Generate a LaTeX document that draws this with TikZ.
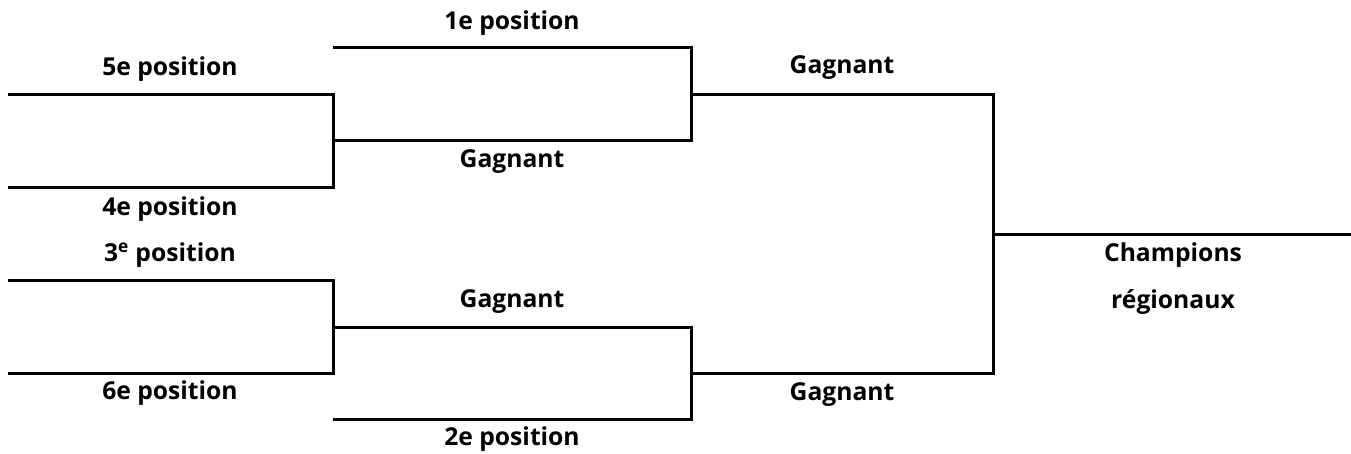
\documentclass[tikz,border=0pt]{standalone}
\usepackage{fontspec}
\setmainfont{Open Sans}
\usepackage{tikz}

\tikzset{
  bracket/.style={line width=2.25pt, line join=miter},
  lbl/.style={anchor=base, inner sep=0.75pt, font=\bfseries\fontsize{18.5}{22}\selectfont}
}

\begin{document}
\begin{tikzpicture}[x=0.75pt,y=0.75pt,yscale=-1,xscale=1]
%set diagram left start at 0, and has height of 453
\useasboundingbox (0,0) rectangle (1351,453);

%Coordinates of the brackets
\coordinate (a1) at (8,94);
\coordinate (a2) at (333,94);
\coordinate (a3) at (333,187);
\coordinate (a4) at (8,187);
\coordinate (m1) at (333,140);
\coordinate (m2) at (691,140);
\coordinate (t2) at (691,48);
\coordinate (t1) at (333,48);
\coordinate (r1) at (691,94);
\coordinate (r2) at (993,94);
\coordinate (b1) at (8,280);
\coordinate (b2) at (333,280);
\coordinate (b3) at (333,373);
\coordinate (b4) at (8,373);
\coordinate (n1) at (333,327);
\coordinate (n2) at (691,327);
\coordinate (n3) at (691,419);
\coordinate (n4) at (333,419);
\coordinate (s1) at (691,373);
\coordinate (s2) at (993,373);
\coordinate (f1) at (993,234);
\coordinate (f2) at (1351,234);

%Straight Lines [upper first round]
\draw [bracket] (a1) -- (a2) -- (a3) -- (a4) ;
%Straight Lines [upper semi final]
\draw [bracket] (m1) -- (m2) -- (t2) -- (t1) ;
%Straight Lines [lower first round]
\draw [bracket] (b1) -- (b2) -- (b3) -- (b4) ;
%Straight Lines [lower semi final]
\draw [bracket] (n1) -- (n2) -- (n3) -- (n4) ;
%Straight Lines [final]
\draw [bracket] (r1) -- (r2) -- (s2) -- (s1) ;
%Straight Lines [champions]
\draw [bracket] (f1) -- (f2) ;

% Text Node
\node [lbl] (p5) at (170,75) {5e position};
% Text Node
\node [lbl] (p4) at (170,215) {4e position};
% Text Node
\node [lbl] (p3) at (170,261) {3\textsuperscript{e} position};
% Text Node
\node [lbl] (p6) at (170,399) {6e position};
% Text Node
\node [lbl] (p1) at (512,30) {1e position};
% Text Node
\node [lbl] (g1) at (512,167) {Gagnant};
% Text Node
\node [lbl] (g2) at (512,307) {Gagnant};
% Text Node
\node [lbl] (p2) at (512,445) {2e position};
% Text Node
\node [lbl] (g3) at (842,74) {Gagnant};
% Text Node
\node [lbl] (g4) at (842,400) {Gagnant};
% Text Node
\node [lbl] (ch) at (1173,261) {Champions};
% Text Node
\node [lbl] (rg) at (1173,308) {régionaux};

\end{tikzpicture}
\end{document}
